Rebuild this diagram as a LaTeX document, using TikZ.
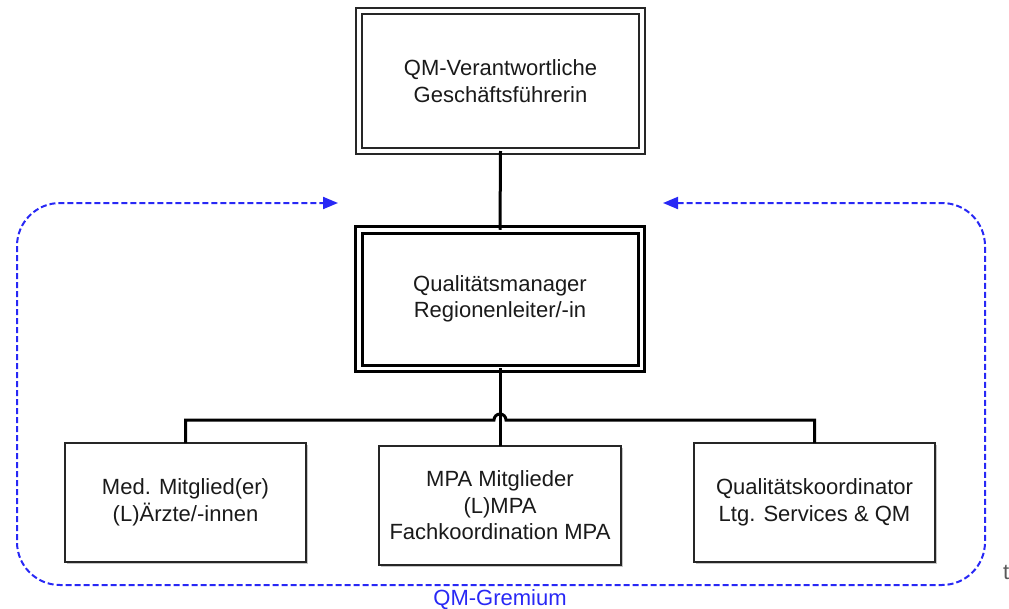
\documentclass[tikz,border=0pt]{standalone}
\usepackage{fontspec}
\setmainfont{Liberation Sans}
\usetikzlibrary{arrows.meta,shadows}
\definecolor{txt}{HTML}{1A1A1A}
\definecolor{loopblue}{RGB}{40,40,245}
\definecolor{boxline}{HTML}{262626}
\begin{document}
\begin{tikzpicture}[x=1pt,y=-1pt,
  every node/.style={inner sep=0pt,outer sep=0pt,font=\fontsize{22}{26.5}\selectfont,text=txt,align=center},
  topbox/.style={draw=boxline,double=white,line width=2pt,double distance=4pt,minimum width=283pt,minimum height=140pt},
  midbox/.style={draw=black,double=white,line width=3pt,double distance=3.5pt,minimum width=282.5pt,minimum height=138.5pt},
  lowbox/.style={draw=boxline,line width=2.2pt,fill=white,minimum width=241pt,minimum height=119pt,
     drop shadow={shadow xshift=2pt,shadow yshift=-2pt,opacity=0.45,fill=gray}},
  conn/.style={draw=black,line width=3pt},
  gremium/.style={draw=loopblue,line width=2pt,dash pattern=on 6pt off 3pt,rounded corners=43pt,
     {Triangle[length=15pt,width=12pt]}-{Triangle[length=15pt,width=12pt]}}
]
\useasboundingbox (0,0) rectangle (1009,608);

\node[topbox] (top) at (500.5,81) {QM-Verantwortliche\\Geschäftsführerin};
\node[midbox] (mid) at (500,299) {Qualitätsmanager\\Regionenleiter/-in};

\node[lowbox] (left) at (185.5,502.5) {Med. Mitglied(er)\\(L)Ärzte/-innen};
\node[lowbox,minimum width=242pt] (mpa) at (500,505.5) {MPA Mitglieder\\(L)MPA\\Fachkoordination MPA};
\node[lowbox] (right) at (814.5,502.5) {Qualitätskoordinator\\Ltg. Services \& QM};

\coordinate (bus) at (500,420);
\draw[conn] (top.south) -- (mid.north);
\draw[conn] (mid.south) -- (mpa.north);
\draw[conn] (left.north) -- (left.north |- bus) -- ([xshift=-6pt]bus) arc (180:360:6) -- (right.north |- bus) -- (right.north);

\coordinate (arrR) at (338,203);
\coordinate (arrL) at (663,203);
\draw[gremium] (arrL) -- (985,203) -- (985,585) -- (17,585) -- (17,203) -- (arrR);

\node[text=loopblue,anchor=base] (qmg) at (500,605) {QM-Gremium};
\node[text=gray!70!black,anchor=base west] (stray) at (1003,579) {t};
\end{tikzpicture}
\end{document}
